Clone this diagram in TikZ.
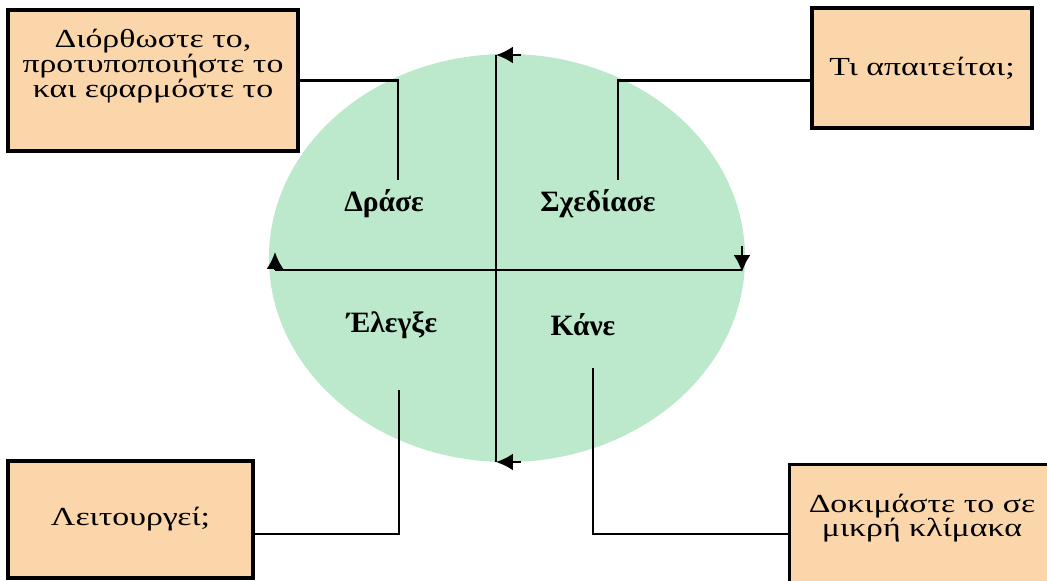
\documentclass[tikz,border=0pt]{standalone}
\usepackage{fontspec}
\setmainfont{Liberation Serif}
\newfontfamily\notefont[FakeStretch=1.3]{Liberation Serif}
\usepackage{tikz}
\usetikzlibrary{arrows.meta,shapes.geometric}
\definecolor{cyclegreen}{RGB}{188,232,204}
\definecolor{notepeach}{RGB}{250,214,170}

\begin{document}
\begin{tikzpicture}[x=0.025cm, y=-0.025cm,
  notetext/.style={font=\notefont\fontsize{18.5}{17.5}\selectfont, align=center},
  notebox/.style={notetext, draw, line width=2.2pt, fill=notepeach, inner sep=0pt},
  phase/.style={font=\bfseries\fontsize{21}{24}\selectfont},
  flow/.style={line width=1.6pt},
  tip/.style={-{Latex[length=4.2mm,width=4.2mm]}}]
  \clip (0,0) rectangle (1047,580);

  \node[ellipse, fill=cyclegreen, minimum width=11.9cm, minimum height=10.2cm, inner sep=0pt] (cycle) at (507,258) {};

  \node[notebox, minimum width=7.25cm, minimum height=3.525cm] (actbox) at (153,80.5) {};
  \node[notetext] (acttext) at (153,66) {Διόρθωστε το,\\ προτυποποιήστε το\\ και εφαρμόστε το};
  \node[notebox, minimum width=5.5cm, minimum height=3cm] (planbox) at (922,68) {Τι απαιτείται;};
  \node[notebox, minimum width=6.125cm, minimum height=2.925cm] (checkbox) at (130.5,519.5) {Λειτουργεί;};
  \node[notebox, minimum width=6.75cm, minimum height=3.5cm, anchor=north west] (dobox) at (788,463) {};
  \node[notetext] (dotext) at (922,518) {Δοκιμάστε το σε\\ μικρή κλίμακα};

  \node[phase] (act) at (384,204) {Δράσε};
  \node[phase] (plan) at (598,204) {Σχεδίασε};
  \node[phase] (check) at (392,325) {Έλεγξε};
  \node[phase] (do) at (583,325) {Κάνε};

  \coordinate (actend) at (398,180);
  \coordinate (planend) at (618,180);
  \coordinate (checkend) at (399,390);
  \coordinate (doend) at (593,368);
  \coordinate (topend) at (496,55);
  \coordinate (bottomend) at (496,462);
  \coordinate (westend) at (275,270);
  \coordinate (eastend) at (742,270);

  % notes to the quarters
  \draw[flow] (actbox.east) -| (actend);
  \draw[flow] (planbox.west |- actbox.east) -| (planend);
  \draw[flow] ([yshift=-0.36cm]checkbox.east) -| (checkend);
  \draw[flow] ([yshift=-0.36cm]checkbox.east -| dobox.west) -| (doend);

  % the cross
  \draw[flow] (topend) -- (bottomend);
  \draw[flow] (westend) -- (eastend);
  \draw[flow, tip] ([xshift=0.625cm]topend) -- (topend);
  \draw[flow, tip] ([xshift=0.625cm]bottomend) -- (bottomend);
  \draw[flow, tip] (westend) -- ([yshift=0.45cm]westend);
  \draw[flow, tip] ([yshift=0.6cm]eastend) -- ([yshift=-0.05cm]eastend);
\end{tikzpicture}
\end{document}
